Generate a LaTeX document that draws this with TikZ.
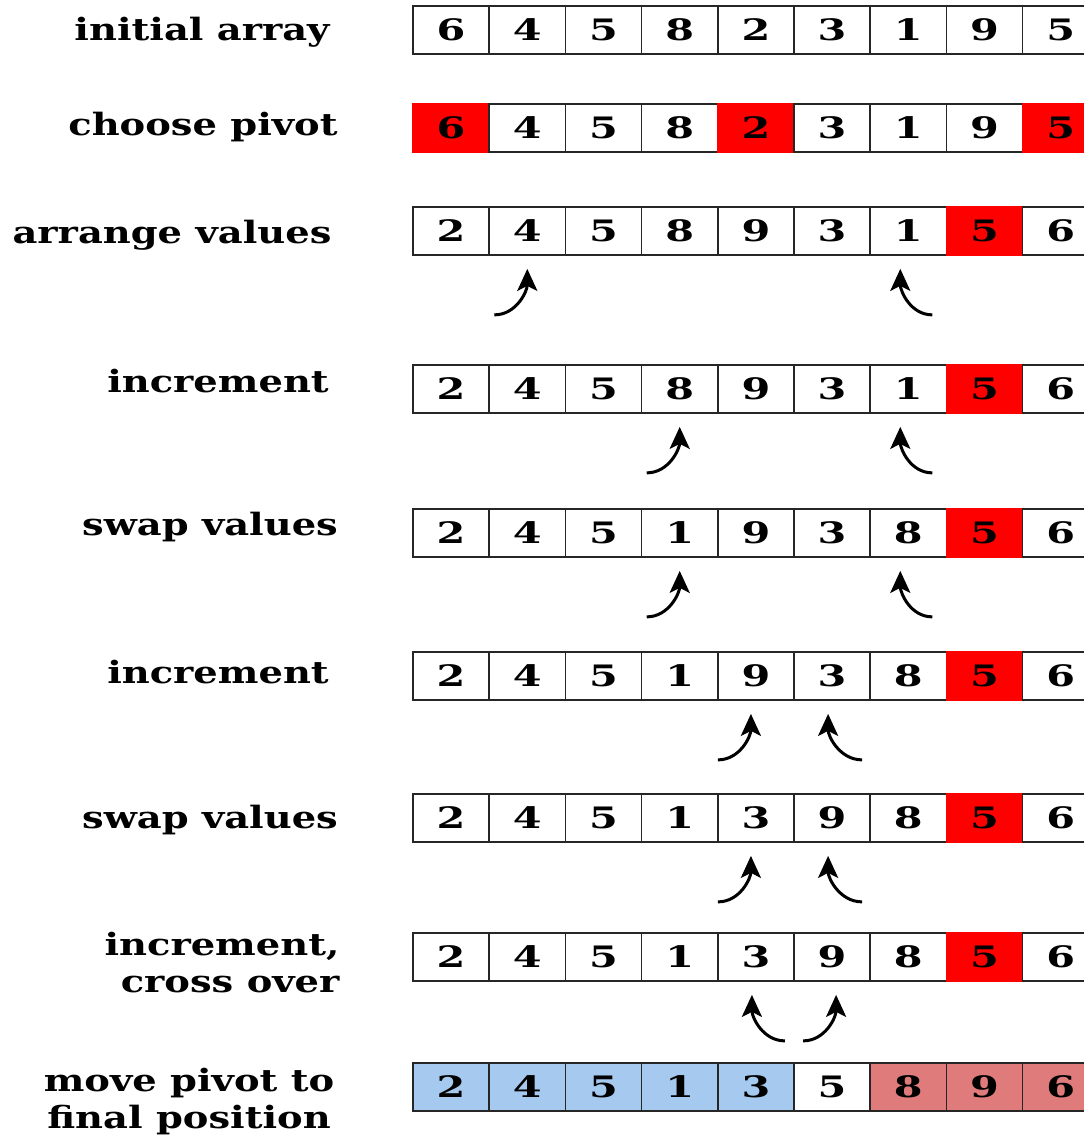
\documentclass[tikz,border=0pt]{standalone}
\usepackage{fontspec}
\newfontfamily\lblfont{DejaVu Serif}[FakeStretch=1.25]
\newfontfamily\digfont{DejaVu Serif}[FakeStretch=1.4]
\definecolor{QSred}{HTML}{FF0000}
\definecolor{QSblue}{HTML}{A6C9EF}
\definecolor{QSpink}{HTML}{E07B7B}
\usetikzlibrary{arrows.meta, calc}

\tikzset{
  cellbox/.style={draw=black!85, line width=0.035cm, fill=white,
    minimum width=1.524cm, minimum height=0.96cm, inner sep=0pt,
    font=\digfont\bfseries\fontsize{16.8}{17}\selectfont},
  plain/.style={},
  pivot/.style={fill=QSred, draw=QSred},
  lower/.style={fill=QSblue},
  upper/.style={fill=QSpink},
  steplabel/.style={anchor=base, align=center,
    font=\lblfont\bfseries\fontsize{17.5}{20.5}\selectfont},
  ptr/.style={line width=0.06cm, -{Stealth[length=0.44cm, width=0.4cm, inset=0.1cm]}},
  ptrL/.style={ptr, out=0, in=-90},
  ptrR/.style={ptr, out=180, in=-90}
}

\begin{document}
\begin{tikzpicture}[x=0.02cm, y=-0.02cm]
  \useasboundingbox (0,0) rectangle (1084,1135);
  % step labels (base = last line)
  \node[steplabel] (lbl1) at (202,41) {initial array};
  \node[steplabel] (lbl2) at (203,136) {choose pivot};
  \node[steplabel] (lbl3) at (172,243) {arrange values};
  \node[steplabel] (lbl4) at (218,392) {increment};
  \node[steplabel] (lbl5) at (210,535) {swap values};
  \node[steplabel] (lbl6) at (218,683) {increment};
  \node[steplabel] (lbl7) at (210,828) {swap values};
  \node[steplabel, align=right] (lbl8) at (222,992) {increment,\\cross over};
  \node[steplabel] (lbl9) at (189,1128) {move pivot to\\final position};
  % arrays, one row per step
  \foreach \v/\s [count=\i] in {6/plain,4/plain,5/plain,8/plain,2/plain,3/plain,1/plain,9/plain,5/plain}
    \node[cellbox,\s] (r1c\i) at (374.9+76.2*\i,30) {\v};
  \foreach \v/\s [count=\i] in {6/pivot,4/plain,5/plain,8/plain,2/pivot,3/plain,1/plain,9/plain,5/pivot}
    \node[cellbox,\s] (r2c\i) at (374.9+76.2*\i,128) {\v};
  \foreach \v/\s [count=\i] in {2/plain,4/plain,5/plain,8/plain,9/plain,3/plain,1/plain,5/pivot,6/plain}
    \node[cellbox,\s] (r3c\i) at (374.9+76.2*\i,231) {\v};
  \foreach \v/\s [count=\i] in {2/plain,4/plain,5/plain,8/plain,9/plain,3/plain,1/plain,5/pivot,6/plain}
    \node[cellbox,\s] (r4c\i) at (374.9+76.2*\i,389) {\v};
  \foreach \v/\s [count=\i] in {2/plain,4/plain,5/plain,1/plain,9/plain,3/plain,8/plain,5/pivot,6/plain}
    \node[cellbox,\s] (r5c\i) at (374.9+76.2*\i,533) {\v};
  \foreach \v/\s [count=\i] in {2/plain,4/plain,5/plain,1/plain,9/plain,3/plain,8/plain,5/pivot,6/plain}
    \node[cellbox,\s] (r6c\i) at (374.9+76.2*\i,676) {\v};
  \foreach \v/\s [count=\i] in {2/plain,4/plain,5/plain,1/plain,3/plain,9/plain,8/plain,5/pivot,6/plain}
    \node[cellbox,\s] (r7c\i) at (374.9+76.2*\i,818) {\v};
  \foreach \v/\s [count=\i] in {2/plain,4/plain,5/plain,1/plain,3/plain,9/plain,8/plain,5/pivot,6/plain}
    \node[cellbox,\s] (r8c\i) at (374.9+76.2*\i,957) {\v};
  \foreach \v/\s [count=\i] in {2/lower,4/lower,5/lower,1/lower,3/lower,5/plain,8/upper,9/upper,6/upper}
    \node[cellbox,\s] (r9c\i) at (374.9+76.2*\i,1087) {\v};
  % pointer tails
  \coordinate (t3l) at ($(r3c2.south)+(-33,59)$);
  \coordinate (t3r) at ($(r3c7.south)+(24,59)$);
  \coordinate (t4l) at ($(r4c4.south)+(-33,59)$);
  \coordinate (t4r) at ($(r4c7.south)+(24,59)$);
  \coordinate (t5l) at ($(r5c4.south)+(-33,59)$);
  \coordinate (t5r) at ($(r5c7.south)+(24,59)$);
  \coordinate (t6l) at ($(r6c5.south)+(-38,59)$);
  \coordinate (t6r) at ($(r6c6.south)+(30,59)$);
  \coordinate (t7l) at ($(r7c5.south)+(-38,59)$);
  \coordinate (t7r) at ($(r7c6.south)+(30,59)$);
  \coordinate (t8l) at ($(r8c5.south)+(29,59)$);
  \coordinate (t8r) at ($(r8c6.south)+(-29,59)$);
  % pointers
  \draw[ptrL] (t3l) to ([yshift=-0.26cm]r3c2.south);
  \draw[ptrR] (t3r) to ([shift={(-8,13)}]r3c7.south);
  \draw[ptrL] (t4l) to ([yshift=-0.26cm]r4c4.south);
  \draw[ptrR] (t4r) to ([shift={(-8,13)}]r4c7.south);
  \draw[ptrL] (t5l) to ([yshift=-0.26cm]r5c4.south);
  \draw[ptrR] (t5r) to ([shift={(-8,13)}]r5c7.south);
  \draw[ptrL] (t6l) to ([shift={(-5,13)}]r6c5.south);
  \draw[ptrR] (t6r) to ([shift={(-4,13)}]r6c6.south);
  \draw[ptrL] (t7l) to ([shift={(-5,13)}]r7c5.south);
  \draw[ptrR] (t7r) to ([shift={(-4,13)}]r7c6.south);
  % crossed over
  \draw[ptrR] (t8l) to ([shift={(-4,13)}]r8c5.south);
  \draw[ptrL] (t8r) to ([shift={(4,13)}]r8c6.south);
\end{tikzpicture}
\end{document}
